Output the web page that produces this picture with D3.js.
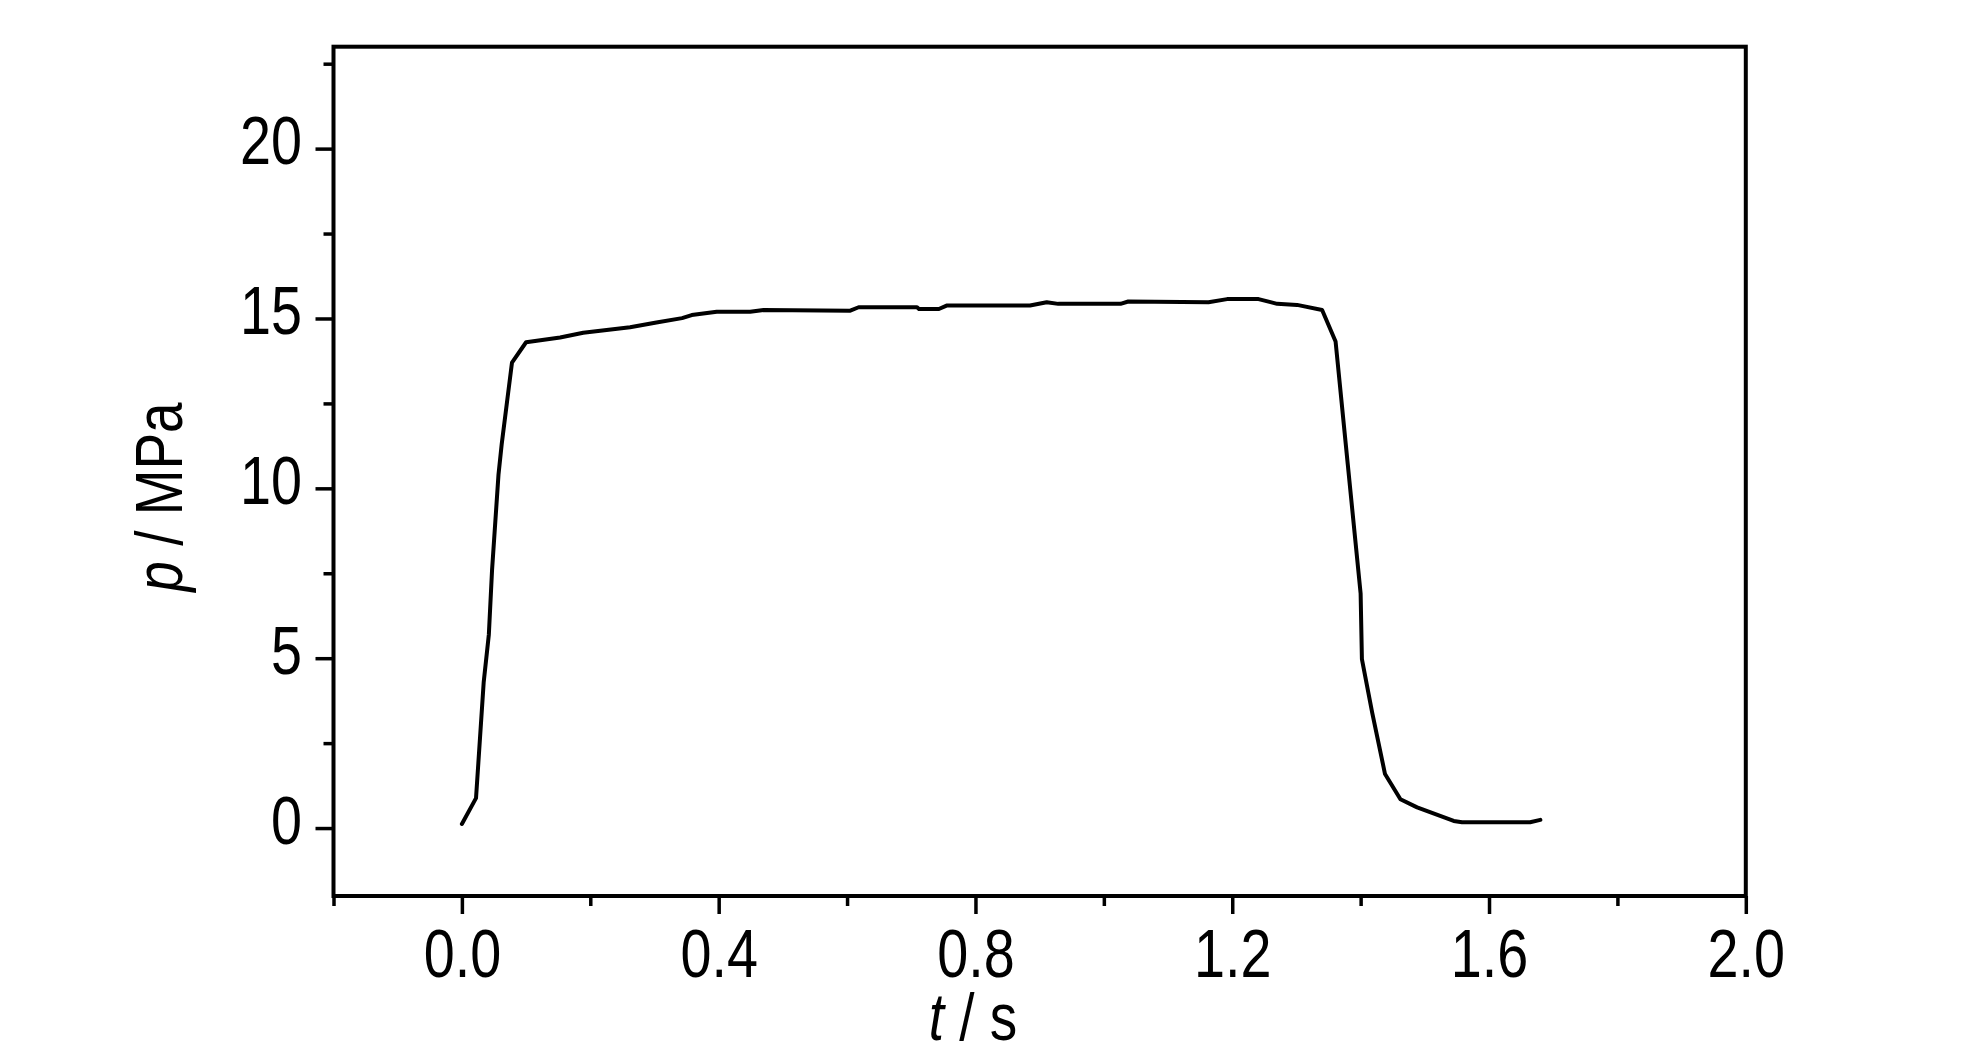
<!DOCTYPE html>
<html>
<head>
<meta charset="utf-8">
<script src="https://cdn.jsdelivr.net/npm/d3@7"></script>
<style>
  html, body { margin: 0; padding: 0; background: #fff; }
  svg { display: block; }
  text { font-family: "Liberation Sans", Arial, sans-serif; fill: #000; }
</style>
</head>
<body>
<svg id="chart" width="1984" height="1063"></svg>
<script>
// time (s)
const tValues = [0, 0.022, 0.034, 0.042, 0.047, 0.057, 0.062, 0.078, 0.100, 0.153, 0.189, 0.262, 0.303, 0.343, 0.358, 0.397, 0.449, 0.470, 0.605, 0.618, 0.709, 0.712, 0.743, 0.755, 0.885, 0.911, 0.929, 1.026, 1.038, 1.163, 1.192, 1.241, 1.270, 1.301, 1.340, 1.361, 1.380, 1.400, 1.402, 1.418, 1.438, 1.462, 1.488, 1.545, 1.558, 1.664, 1.680];
// pressure (MPa)
const pValues = [0.12, 0.88, 4.3, 5.7, 7.6, 10.4, 11.3, 13.7, 14.3, 14.44, 14.58, 14.74, 14.88, 15.01, 15.10, 15.20, 15.20, 15.25, 15.23, 15.33, 15.33, 15.28, 15.28, 15.38, 15.38, 15.48, 15.43, 15.43, 15.50, 15.48, 15.57, 15.57, 15.43, 15.40, 15.25, 14.32, 10.7, 6.9, 4.97, 3.4, 1.59, 0.85, 0.61, 0.21, 0.17, 0.17, 0.24];

const xMajorTicks = [0.0, 0.4, 0.8, 1.2, 1.6, 2.0];
const xMinorTicks = [-0.2, 0.2, 0.6, 1.0, 1.4, 1.8];
const yMajorTicks = [0, 5, 10, 15, 20];
const yMinorTicks = [2.5, 7.5, 12.5, 17.5, 22.5];
const xTickLabels = ["0.0", "0.4", "0.8", "1.2", "1.6", "2.0"];
const yTickLabels = ["0", "5", "10", "15", "20"];
const xTitleVar = "t", xTitleUnit = " / s";
const yTitleVar = "p", yTitleUnit = " / MPa";

const pLeft = 333.5, pRight = 1745.8, pTop = 46.7, pBottom = 896;
const SX = 0.82;

const svg = d3.select("#chart");
const x = d3.scaleLinear().domain([-0.2, 2.0]).range([pLeft, pRight]);
const y = d3.scaleLinear().domain([-2, 23]).range([pBottom, pTop]);

// minor ticks
const gxMinor = svg.append("g").attr("transform", `translate(0,${pBottom})`)
  .call(d3.axisBottom(x).tickValues(xMinorTicks).tickSize(10).tickFormat(""));
const gyMinor = svg.append("g").attr("transform", `translate(${pLeft},0)`)
  .call(d3.axisLeft(y).tickValues(yMinorTicks).tickSize(10).tickFormat(""));

// major ticks
const gx = svg.append("g").attr("transform", `translate(0,${pBottom})`)
  .call(d3.axisBottom(x).tickValues(xMajorTicks).tickSize(18)
    .tickFormat((d, i) => xTickLabels[i]));
const gy = svg.append("g").attr("transform", `translate(${pLeft},0)`)
  .call(d3.axisLeft(y).tickValues(yMajorTicks).tickSize(18)
    .tickFormat((d, i) => yTickLabels[i]));

[gxMinor, gyMinor, gx, gy].forEach(g => {
  g.select(".domain").remove();
  g.selectAll(".tick line").attr("stroke", "#000").attr("stroke-width", 3.5);
});

gx.selectAll(".tick text")
  .attr("x", 0).attr("y", 0).attr("dy", 0)
  .attr("text-anchor", "middle")
  .attr("font-size", 68)
  .attr("fill", "#000")
  .attr("transform", `translate(0,81) scale(${SX},1)`);

gy.selectAll(".tick text")
  .attr("x", 0).attr("y", 0).attr("dy", 0)
  .attr("text-anchor", "end")
  .attr("font-size", 68)
  .attr("fill", "#000")
  .attr("transform", `translate(-31.5,15) scale(${SX},1)`);

[gxMinor, gyMinor, gx, gy].forEach(g => g.attr("font-family", null));

// frame
svg.append("rect")
  .attr("x", pLeft).attr("y", pTop)
  .attr("width", pRight - pLeft).attr("height", pBottom - pTop)
  .attr("fill", "none").attr("stroke", "#000").attr("stroke-width", 4);

// curve
const data = tValues.map((t, i) => ({ t, p: pValues[i] }));
svg.append("path")
  .datum(data)
  .attr("fill", "none")
  .attr("stroke", "#000")
  .attr("stroke-width", 4)
  .attr("stroke-linejoin", "round")
  .attr("stroke-linecap", "round")
  .attr("d", d3.line().x(d => x(d.t)).y(d => y(d.p)));

// x title
const xt = svg.append("text")
  .attr("text-anchor", "middle")
  .attr("font-size", 67)
  .attr("transform", `translate(973,1040) scale(${SX},1)`);
xt.append("tspan").attr("font-style", "italic").text(xTitleVar);
xt.append("tspan").text(xTitleUnit);

// y title
const yt = svg.append("text")
  .attr("text-anchor", "middle")
  .attr("font-size", 67)
  .attr("transform", `translate(182,497) rotate(-90) scale(${SX},1)`);
yt.append("tspan").attr("font-style", "italic").text(yTitleVar);
yt.append("tspan").text(yTitleUnit);
</script>
</body>
</html>
